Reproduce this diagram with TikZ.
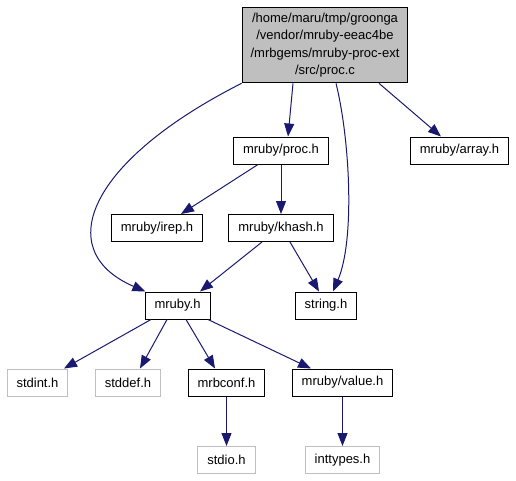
\documentclass[tikz,border=0pt]{standalone}
\usepackage{fontspec}
\setmainfont{Liberation Sans}
\usetikzlibrary{arrows.meta, positioning}
\definecolor{gvBlue}{HTML}{191970}
\definecolor{gvGrey}{HTML}{BFBFBF}
\tikzset{
  hdr/.style     = {draw=black, line width=1pt, inner xsep=9.5pt, minimum height=27pt,
                    font=\fontsize{13}{15}\selectfont},
  syshdr/.style  = {hdr, draw=gvGrey},
  roothdr/.style = {hdr, fill=gvGrey, align=center, inner ysep=5.5pt, inner xsep=8.5pt,
                    font=\fontsize{13}{17.5}\selectfont},
  dep/.style     = {gvBlue, line width=1pt, -{Triangle[length=13pt, width=10pt]}},
}
\begin{document}
\begin{tikzpicture}[x=1pt, y=-1pt]
  \useasboundingbox (0,0) rectangle (516,480);

  \node[roothdr] (root) at (325,45)
    {/home/maru/tmp/groonga\\/vendor/mruby-eeac4be\\/mrbgems/mruby-proc-ext\\/src/proc.c};

  \node[hdr] (proc)  at (281,150.5) {mruby/proc.h};
  \node[hdr] (array) at (459.5,150.5) {mruby/array.h};
  \node[hdr] (irep)  at (157,228) {mruby/irep.h};
  \node[hdr] (khash) at (281,228) {mruby/khash.h};
  \node[hdr] (mruby) at (177.5,305.5) {mruby.h};
  \node[hdr] (str)   at (326,305.5) {string.h};

  \node[syshdr] (stdint)  at (37.5,382.5) {stdint.h};
  \node[syshdr] (stddef)  at (128,382.5) {stddef.h};
  \node[hdr]    (mrbconf) at (226.5,382.5) {mrbconf.h};
  \node[hdr]    (value)   at (342.5,382.5) {mruby/value.h};
  \node[syshdr] (stdio)   at (226.5,460) {stdio.h};
  \node[syshdr] (inttypes) at (342.5,460) {inttypes.h};

  % root -> its direct includes
  \draw[dep] (root.south west) .. controls (90,160) and (50,250) .. (mruby);
  \draw[dep] (root.south -| 293,0) -- (proc.north -| 288,0);
  \draw[dep] (root.south -| 336,0) .. controls (350,140) and (355,240) .. (str.north -| 333,0);
  \draw[dep] (root.south -| 379,0) -- (array.north -| 441,0);

  \draw[dep] (proc.south -| 258,0) -- (irep.north -| 181,0);
  \draw[dep] (proc) -- (khash);
  \draw[dep] (khash.south -| 262,0) -- (mruby.north -| 200,0);
  \draw[dep] (khash.south -| 290,0) -- (str.north -| 319,0);

  \draw[dep] (mruby.south -| 151,0) -- (stdint.north -| 64,0);
  \draw[dep] (mruby.south -| 167,0) -- (stddef.north -| 140,0);
  \draw[dep] (mruby.south -| 186,0) -- (mrbconf.north -| 215,0);
  \draw[dep] (mruby.south -| 208,0) -- (value.north -| 311,0);

  \draw[dep] (mrbconf) -- (stdio);
  \draw[dep] (value) -- (inttypes);
\end{tikzpicture}
\end{document}
